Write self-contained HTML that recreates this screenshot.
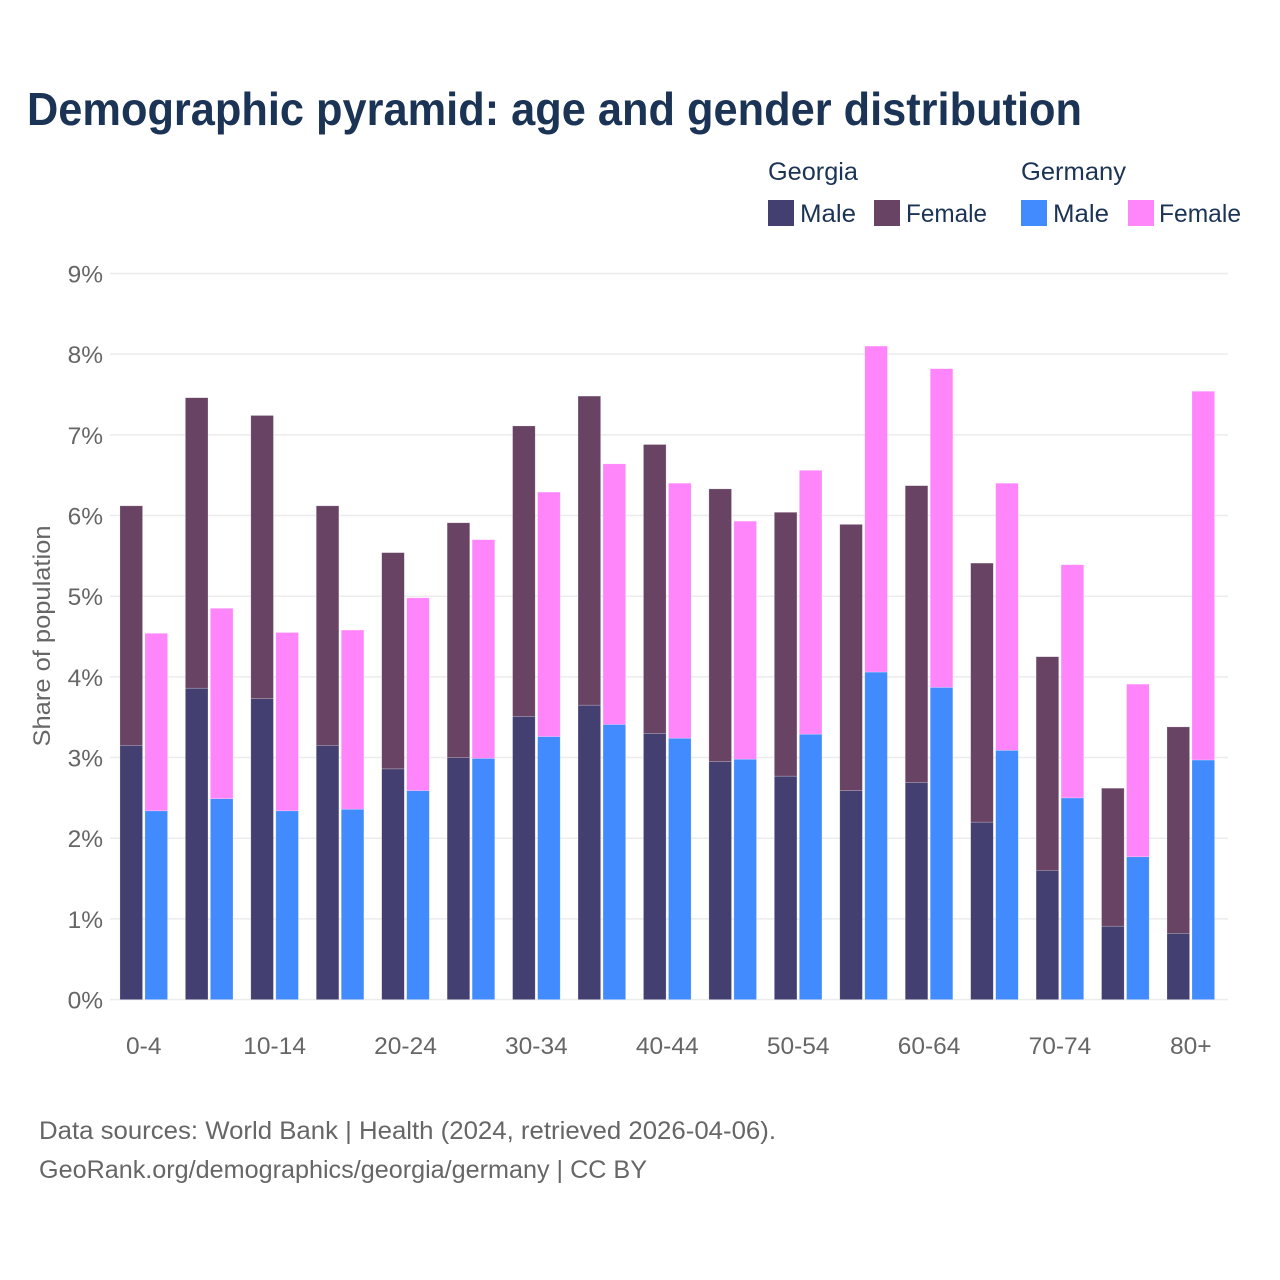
<!DOCTYPE html>
<html lang="en">
<head>
<meta charset="utf-8">
<title>Demographic pyramid</title>
<style>
html,body{margin:0;padding:0;background:#fff;width:1280px;height:1280px;overflow:hidden}
svg{display:block}
text{font-family:"Liberation Sans",sans-serif}
.tick{font-size:24.5px;fill:#666}
.leg{font-size:25px;fill:#1b3355}
.foot{font-size:25px;fill:#666}
</style>
</head>
<body>
<svg id="chart" xmlns="http://www.w3.org/2000/svg" width="1280" height="1280" viewBox="0 0 1280 1280">
  <rect x="0" y="0" width="1280" height="1280" fill="#fff"/>
  <text x="27" y="125" font-size="46" font-weight="700" fill="#1b3355" textLength="1055" lengthAdjust="spacingAndGlyphs">Demographic pyramid: age and gender distribution</text>
  <g id="grid"></g>
  <g id="yticks"></g>
  <g id="bars"></g>
  <g id="xticks"></g>
  <text transform="translate(50,636) rotate(-90)" text-anchor="middle" font-size="24.5" fill="#666" textLength="221" lengthAdjust="spacingAndGlyphs">Share of population</text>

  <g>
    <text class="leg" x="768" y="180" textLength="90" lengthAdjust="spacingAndGlyphs">Georgia</text>
    <rect x="768" y="200" width="26" height="26" fill="#433f70"/>
    <text class="leg" x="800" y="222" textLength="56" lengthAdjust="spacingAndGlyphs">Male</text>
    <rect x="874" y="200" width="26" height="26" fill="#684363"/>
    <text class="leg" x="906" y="222" textLength="81" lengthAdjust="spacingAndGlyphs">Female</text>
    <text class="leg" x="1021" y="180" textLength="105" lengthAdjust="spacingAndGlyphs">Germany</text>
    <rect x="1021" y="200" width="26" height="26" fill="#418bff"/>
    <text class="leg" x="1053" y="222" textLength="56" lengthAdjust="spacingAndGlyphs">Male</text>
    <rect x="1128" y="200" width="26" height="26" fill="#ff85fa"/>
    <text class="leg" x="1159" y="222" textLength="82" lengthAdjust="spacingAndGlyphs">Female</text>
  </g>

  <text class="foot" x="39" y="1139" textLength="737" lengthAdjust="spacingAndGlyphs">Data sources: World Bank | Health (2024, retrieved 2026-04-06).</text>
  <text class="foot" x="39" y="1178" textLength="608" lengthAdjust="spacingAndGlyphs">GeoRank.org/demographics/georgia/germany | CC BY</text>
</svg>
<script>
const categories = ["0-4","5-9","10-14","15-19","20-24","25-29","30-34","35-39","40-44","45-49","50-54","55-59","60-64","65-69","70-74","75-79","80+"];
const georgiaMale = [3.15,3.86,3.73,3.15,2.86,3.00,3.51,3.65,3.30,2.95,2.77,2.59,2.69,2.20,1.60,0.91,0.82];
const georgiaFemale = [2.97,3.60,3.51,2.97,2.68,2.91,3.60,3.83,3.58,3.38,3.27,3.30,3.68,3.21,2.65,1.71,2.56];
const germanyMale = [2.34,2.49,2.34,2.36,2.59,2.99,3.26,3.41,3.24,2.98,3.29,4.06,3.87,3.09,2.50,1.77,2.97];
const germanyFemale = [2.20,2.36,2.21,2.22,2.39,2.71,3.03,3.23,3.16,2.95,3.27,4.04,3.95,3.31,2.89,2.14,4.57];
const yTickValues = [0,1,2,3,4,5,6,7,8,9];
const xTickEvery = 2;

const NS = "http://www.w3.org/2000/svg";
const plot = { left: 110, right: 1228, y0: 999.6, perUnit: 80.68, first: 143.75, step: 65.44, barW: 22.6, offset: 12.5 };
function yScale(v) { return plot.y0 - v * plot.perUnit; }
function xScale(i) { return plot.first + i * plot.step; }
function make(tag, attrs, parent) {
  const el = document.createElementNS(NS, tag);
  for (const k in attrs) el.setAttribute(k, attrs[k]);
  parent.appendChild(el);
  return el;
}

const gridG = document.getElementById("grid");
const yG = document.getElementById("yticks");
yTickValues.forEach(function (v) {
  const y = yScale(v);
  const line = make("line", { x1: plot.left, x2: plot.right, y1: y, y2: y, stroke: "#ececec", "stroke-width": 1.5 }, gridG);
  
  
  const label = make("text", { x: 103, y: y + 9, "text-anchor": "end", class: "tick" }, yG);
  label.textContent = v + "%";
  
  
});

const barsG = document.getElementById("bars");
function drawBar(cx, base, value, fill) {
  const top = yScale(base + value);
  const bottom = yScale(base);
  const r = make("rect", { x: cx - plot.barW / 2, y: top, width: plot.barW, height: bottom - top, fill: fill, stroke: "#fff", "stroke-opacity": 0.35, "stroke-width": 0.6 }, barsG);
  return r;
}
categories.forEach(function (c, i) {
  const x = xScale(i);
  const a = drawBar(x - plot.offset, 0, georgiaMale[i], "#433f70");
  
  
  const b = drawBar(x - plot.offset, georgiaMale[i], georgiaFemale[i], "#684363");
  
  
  const d = drawBar(x + plot.offset, 0, germanyMale[i], "#418bff");
  
  
  const e = drawBar(x + plot.offset, germanyMale[i], germanyFemale[i], "#ff85fa");
  
  
});

const xG = document.getElementById("xticks");
categories.forEach(function (c, i) {
  if (i % xTickEvery !== 0) return;
  const t = make("text", { x: xScale(i), y: 1054, "text-anchor": "middle", class: "tick" }, xG);
  t.textContent = c;
  
  
});
</script>
</body>
</html>
